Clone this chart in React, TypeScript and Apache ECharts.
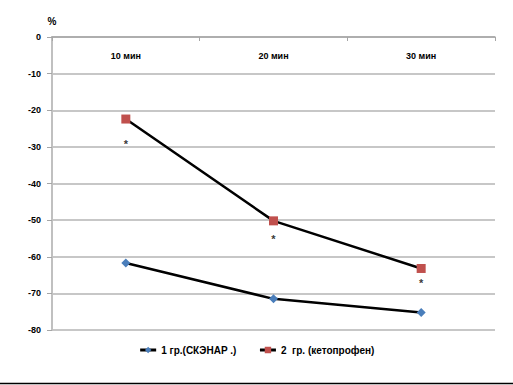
import React, { useEffect, useRef } from "react";
import * as echarts from "echarts";

const categories = ["10 мин", "20 мин", "30 мин"];
const seriesNames = ["1 гр.(СКЭНАР .)", "2  гр. (кетопрофен)"];
const group1 = [-61.7, -71.5, -75.2];
const group2 = [-22.4, -50.2, -63.2];
const starValues = [-29.3, -55.2, -67.3];
const starLabels = ["*", "*", "*"];

const FONT = "'Liberation Sans', Arial, sans-serif";

export default function App() {
  const ref = useRef<HTMLDivElement>(null);
  useEffect(() => {
    if (!ref.current) return;
    const chart = echarts.init(ref.current, null, { renderer: "svg" });
    chart.setOption({
      animation: false,
      backgroundColor: "#ffffff",
      textStyle: { fontFamily: FONT },
      grid: { left: 52, right: 18, top: 37, bottom: 55 },
      legend: {
        bottom: 25,
        left: "center",
        itemWidth: 16,
        itemHeight: 8,
        itemGap: 22,
        lineStyle: { color: "#000000", width: 3 },
        textStyle: { fontSize: 10, fontWeight: "bold", color: "#000", fontFamily: FONT },
        data: seriesNames,
      },
      xAxis: {
        type: "category",
        data: categories,
        position: "top",
        axisLine: { show: true, lineStyle: { color: "#a6a6a6", width: 1.5 } },
        axisTick: { show: true, inside: true, length: 4, lineStyle: { color: "#a6a6a6" } },
        axisLabel: {
          inside: true,
          margin: 14,
          fontSize: 9,
          fontWeight: "bold",
          color: "#000",
          fontFamily: FONT,
        },
        splitLine: { show: false },
      },
      yAxis: {
        type: "value",
        min: -80,
        max: 0,
        interval: 10,
        name: "%",
        nameGap: 11,
        nameLocation: "end",
        nameTextStyle: { fontSize: 10, fontWeight: "bold", color: "#000", align: "center", fontFamily: FONT },
        axisLine: { show: true, lineStyle: { color: "#c0c0c0", width: 2 } },
        axisTick: { show: true, length: 5, lineStyle: { color: "#a6a6a6" } },
        axisLabel: { fontSize: 9, fontWeight: "bold", color: "#000", margin: 11, fontFamily: FONT },
        splitLine: { show: true, lineStyle: { color: "#b4b4b4", width: 1.5 } },
      },
      series: [
        {
          name: seriesNames[0],
          type: "line",
          data: group1,
          symbol: "diamond",
          symbolSize: 9,
          itemStyle: { color: "#4a7ebb" },
          lineStyle: { color: "#000", width: 2.5 },
        },
        {
          name: seriesNames[1],
          type: "line",
          data: group2,
          symbol: "rect",
          symbolSize: 9,
          itemStyle: { color: "#c0504d" },
          lineStyle: { color: "#000", width: 2.5 },
        },
        {
          name: "stars",
          type: "scatter",
          data: starValues.map((v, i) => ({ value: v, label: { formatter: starLabels[i] } })),
          symbol: "circle",
          symbolSize: 2,
          itemStyle: { color: "rgba(0,0,0,0)" },
          label: {
            show: true,
            position: "inside",
            fontSize: 11,
            fontWeight: "bold",
            color: "#000",
            fontFamily: FONT,
          },
          silent: true,
        },
      ],
      graphic: [
        {
          type: "line",
          shape: { x1: 0, y1: 383.5, x2: 513, y2: 383.5 },
          style: { stroke: "#000", lineWidth: 1.5 },
        },
      ],
    });
    return () => chart.dispose();
  }, []);
  return (
    <div
      ref={ref}
      style={{ width: 513, height: 385, position: "absolute", left: 0, top: 0 }}
    />
  );
}
